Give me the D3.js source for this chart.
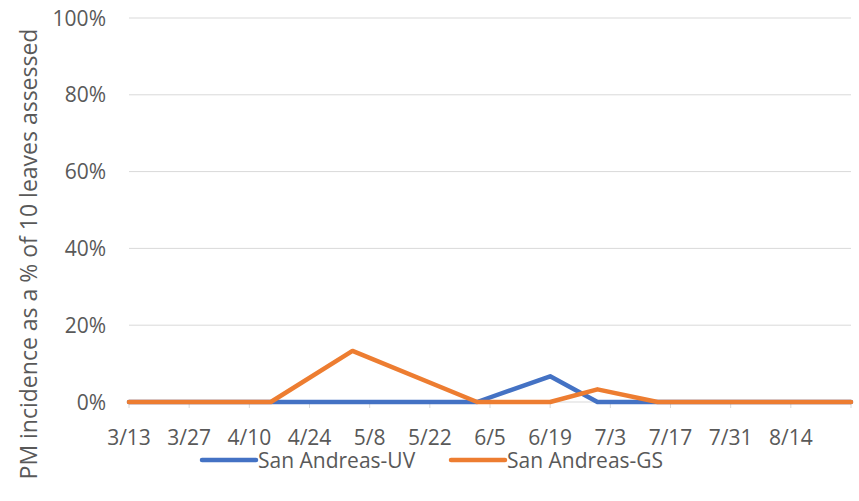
<!DOCTYPE html>
<html>
<head>
<meta charset="utf-8">
<script src="https://cdn.jsdelivr.net/npm/d3@7"></script>
<style>
  body { margin: 0; background: #fff; }
  svg text { font-family: "Open Sans", "Noto Sans", sans-serif; fill: #595959; }
</style>
</head>
<body>
<svg width="859" height="501"></svg>
<script>
// sampling dates (2019 season) and % of leaves with PM
var dates = ['3/13', '4/15', '5/4', '6/2', '6/19', '6/30', '7/14', '8/28'];
var uv = [0, 0, 0, 0, 0.067, 0, 0, 0];
var gs = [0, 0, 0.133, 0, 0, 0.033, 0, 0];
var seriesNames = ['San Andreas-UV', 'San Andreas-GS'];
var colors = ['#4472C4', '#ED7D31'];
var tickDates = ['3/13', '3/27', '4/10', '4/24', '5/8', '5/22', '6/5', '6/19', '7/3', '7/17', '7/31', '8/14', '8/28'];
var yTicks = [0, 0.2, 0.4, 0.6, 0.8, 1];

var plotL = 129, plotR = 851, plotT = 18, plotB = 402;

var parse = function(s) { var p = s.split('/'); return new Date(2019, +p[0] - 1, +p[1]); };

var svg = d3.select('svg');

var x = d3.scaleTime().domain([parse('3/13'), parse('8/28')]).range([plotL, plotR]);
var y = d3.scaleLinear().domain([0, 1]).range([plotB, plotT]);

// gridlines
svg.append('g').selectAll('line').data(yTicks).enter().append('line')
  .attr('x1', plotL).attr('x2', plotR)
  .attr('y1', function(d) { return y(d); }).attr('y2', function(d) { return y(d); })
  .attr('stroke', '#d9d9d9').attr('stroke-width', 1);

// y labels
svg.append('g').selectAll('text').data(yTicks).enter().append('text')
  .attr('x', 106).attr('y', function(d) { return y(d); })
  .attr('dy', '0.36em').attr('text-anchor', 'end')
  .style('font-size', '21px')
  .text(function(d) { return Math.round(d * 100) + '%'; });

// x axis ticks + labels
var xt = svg.append('g');
xt.selectAll('line').data(tickDates.map(parse)).enter().append('line')
  .attr('x1', function(d) { return x(d); }).attr('x2', function(d) { return x(d); })
  .attr('y1', plotB).attr('y2', plotB + 6)
  .attr('stroke', '#d9d9d9').attr('stroke-width', 1);
xt.selectAll('text').data(tickDates.slice(0, 12)).enter().append('text')
  .attr('x', function(d) { return x(parse(d)); }).attr('y', 445)
  .attr('text-anchor', 'middle')
  .style('font-size', '21px')
  .text(function(d) { return d; });

// lines
var line = d3.line()
  .x(function(d) { return x(d[0]); })
  .y(function(d) { return y(d[1]); });

[uv, gs].forEach(function(vals, i) {
  var pts = dates.map(function(d, j) { return [parse(d), vals[j]]; });
  svg.append('path').datum(pts)
    .attr('d', line)
    .attr('fill', 'none')
    .attr('stroke', colors[i])
    .attr('stroke-width', 4.5)
    .attr('stroke-linejoin', 'round')
    .attr('stroke-linecap', 'round');
});

// y axis title
svg.append('text')
  .attr('transform', 'translate(37,254) rotate(-90)')
  .attr('text-anchor', 'middle')
  .style('font-size', '23px')
  .text('PM incidence as a % of 10 leaves assessed');

// legend
var legX = [202, 451];
var leg = svg.append('g').selectAll('g').data(seriesNames).enter().append('g')
  .attr('transform', function(d, i) { return 'translate(' + legX[i] + ',460)'; });
leg.append('line')
  .attr('x1', 0).attr('x2', 54).attr('y1', 0).attr('y2', 0)
  .attr('stroke', function(d, i) { return colors[i]; })
  .attr('stroke-width', 4.5).attr('stroke-linecap', 'round');
leg.append('text')
  .attr('x', 56).attr('y', 0).attr('dy', '0.36em')
  .style('font-size', '21px')
  .text(function(d) { return d; });
</script>
</body>
</html>
